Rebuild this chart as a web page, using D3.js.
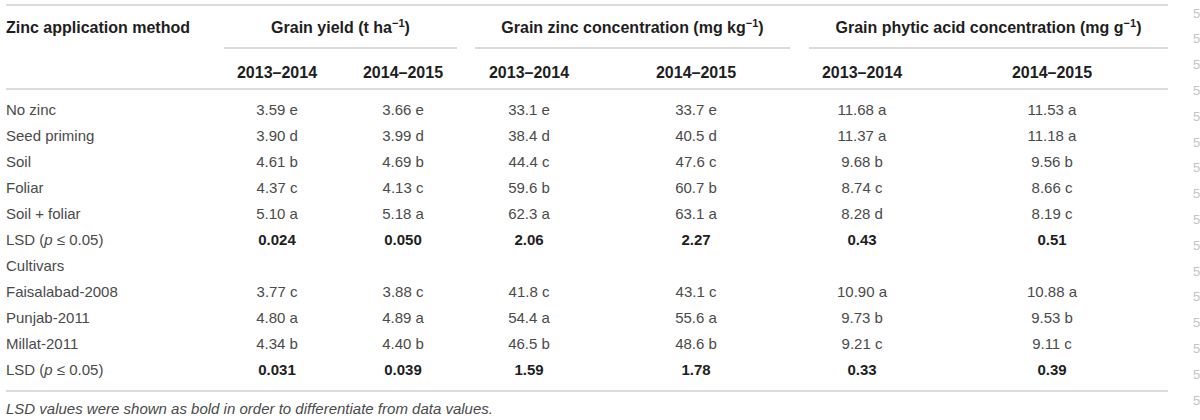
<!DOCTYPE html>
<html>
  <head>
    <meta charset="utf-8">
    <title>Zinc application table</title>
    <script src="https://cdn.jsdelivr.net/npm/d3@7"></script>
    <style>
      body { margin: 0; background: #fff; }
      text { font-family: "Liberation Sans", Arial, sans-serif; }
    </style>
  </head>
  <body>
    <svg width="1200" height="420" id="mainsvg"></svg>
    <script>

    // table content
    const rowLabels = ['No zinc', 'Seed priming', 'Soil', 'Foliar', 'Soil + foliar', 'LSD',
                       'Cultivars', 'Faisalabad-2008', 'Punjab-2011', 'Millat-2011', 'LSD'];
    const lsdRows = [5, 10];
    const yield1314 = ['3.59 e', '3.90 d', '4.61 b', '4.37 c', '5.10 a', '0.024', '', '3.77 c', '4.80 a', '4.34 b', '0.031'];
    const yield1415 = ['3.66 e', '3.99 d', '4.69 b', '4.13 c', '5.18 a', '0.050', '', '3.88 c', '4.89 a', '4.40 b', '0.039'];
    const zinc1314 = ['33.1 e', '38.4 d', '44.4 c', '59.6 b', '62.3 a', '2.06', '', '41.8 c', '54.4 a', '46.5 b', '1.59'];
    const zinc1415 = ['33.7 e', '40.5 d', '47.6 c', '60.7 b', '63.1 a', '2.27', '', '43.1 c', '55.6 a', '48.6 b', '1.78'];
    const phytic1314 = ['11.68 a', '11.37 a', '9.68 b', '8.74 c', '8.28 d', '0.43', '', '10.90 a', '9.73 b', '9.21 c', '0.33'];
    const phytic1415 = ['11.53 a', '11.18 a', '9.56 b', '8.66 c', '8.19 c', '0.51', '', '10.88 a', '9.53 b', '9.11 c', '0.39'];
    const seasons = ['2013–2014', '2014–2015'];
    const groups = [
        {name: 'Grain yield (t ha', unit: '−1', cols: ['y1', 'y2']},
        {name: 'Grain zinc concentration (mg kg', unit: '−1', cols: ['z1', 'z2']},
        {name: 'Grain phytic acid concentration (mg g', unit: '−1', cols: ['p1', 'p2']}
    ];
    const colKeys = ['y1', 'y2', 'z1', 'z2', 'p1', 'p2'];
    const colData = [yield1314, yield1415, zinc1314, zinc1415, phytic1314, phytic1415];
    const footnote = 'LSD values were shown as bold in order to differentiate from data values.';

    let svg = d3.select('svg');
    const width = +svg.attr('width');

    const left = 6, right = 1168;
    const ruleColor = '#cfcfcf';
    const headColor = '#1e1e1e';
    const bodyColor = '#4a4a4a';

    // rows and columns
    const y = d3.scaleBand().domain(d3.range(rowLabels.length)).range([97, 383]);
    const x = d3.scaleOrdinal().domain(colKeys).range([277, 403, 529, 696, 862, 1052]);
    // spans of the group sub-rules
    const spans = [[224, 457], [475, 790], [809, 1168]];

    const rule = (x1, x2, yy) => svg.append('line')
        .attr('x1', x1).attr('x2', x2).attr('y1', yy).attr('y2', yy)
        .attr('stroke', ruleColor).attr('stroke-width', 1.6);

    rule(left, right, 5);
    rule(left, right, 89);
    rule(left, right, 391);

    // header
    svg.append('text')
        .attr('x', left).attr('y', 27).attr('dy', '0.35em')
        .attr('font-size', 16).attr('font-weight', 'bold').attr('fill', headColor)
        .text('Zinc application method');

    groups.forEach(function(g, i){
        const cx = (spans[i][0] + spans[i][1]) / 2;
        const t = svg.append('text')
            .attr('x', cx).attr('y', 27).attr('dy', '0.35em')
            .attr('text-anchor', 'middle')
            .attr('font-size', 16).attr('font-weight', 'bold').attr('fill', headColor);
        t.append('tspan').text(g.name);
        t.append('tspan').attr('dy', -6).attr('font-size', 11).text(g.unit);
        t.append('tspan').attr('dy', 6).text(')');
        rule(spans[i][0], spans[i][1], 48);

        g.cols.forEach(function(k, j){
            svg.append('text')
                .attr('x', x(k)).attr('y', 72).attr('dy', '0.35em')
                .attr('text-anchor', 'middle')
                .attr('font-size', 16).attr('font-weight', 'bold').attr('fill', headColor)
                .text(seasons[j]);
        });
    });

    // row labels
    const labels = svg.selectAll('text.rowlabel')
        .data(rowLabels)
        .enter().append('text')
        .attr('class', 'rowlabel')
        .attr('x', left)
        .attr('y', (d, i) => y(i) + y.bandwidth() / 2)
        .attr('dy', '0.35em')
        .attr('font-size', 15)
        .attr('fill', bodyColor);

    labels.each(function(d){
        const t = d3.select(this);
        if (d === 'LSD') {
            t.append('tspan').text('LSD (');
            t.append('tspan').attr('font-style', 'italic').text('p');
            t.append('tspan').text(' ≤ 0.05)');
        } else {
            t.text(d);
        }
    });

    // cell values
    colKeys.forEach(function(k, c){
        svg.selectAll('text.c' + k)
            .data(colData[c])
            .enter().append('text')
            .attr('class', 'c' + k)
            .attr('x', x(k))
            .attr('y', (d, i) => y(i) + y.bandwidth() / 2)
            .attr('dy', '0.35em')
            .attr('text-anchor', 'middle')
            .attr('font-size', 15)
            .attr('font-weight', (d, i) => lsdRows.includes(i) ? 'bold' : 'normal')
            .attr('fill', (d, i) => lsdRows.includes(i) ? headColor : bodyColor)
            .text(d => d);
    });

    // footnote
    svg.append('text')
        .attr('x', left).attr('y', 409).attr('dy', '0.35em')
        .attr('font-size', 15).attr('font-style', 'italic').attr('fill', bodyColor)
        .text(footnote);

    // clipped glyphs of the neighbouring page column at the right edge
    svg.selectAll('text.edge')
        .data(d3.range(16))
        .enter().append('text')
        .attr('class', 'edge')
        .attr('x', 1193)
        .attr('y', d => 13 + d * 25.8)
        .attr('dy', '0.35em')
        .attr('font-size', 13)
        .attr('fill', '#c4c4c4')
        .text('5');

  </script>
  </body>
</html>
